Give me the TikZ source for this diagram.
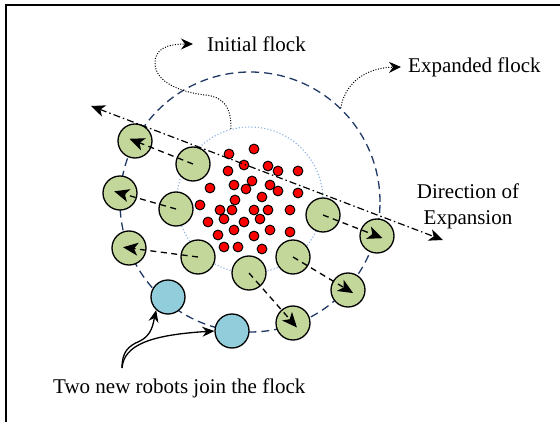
\documentclass[tikz,border=0pt]{standalone}
\usepackage{fontspec}
\setmainfont{Liberation Serif}
\usetikzlibrary{arrows.meta}
\definecolor{navy}{RGB}{31,56,100}
\definecolor{lightblue}{RGB}{141,180,226}
\definecolor{robotgreen}{RGB}{196,215,155}
\definecolor{robotblue}{RGB}{146,205,220}
\begin{document}
\begin{tikzpicture}[x=1pt,y=-1pt,
  robot/.style={circle, draw=black, line width=1.3pt, minimum size=34pt, inner sep=0pt},
  greenbot/.style={robot, fill=robotgreen},
  bluebot/.style={robot, fill=robotblue},
  reddot/.style={circle, draw=black, line width=1pt, fill=red, minimum size=9.8pt, inner sep=0pt},
  lbl/.style={font=\fontsize{21}{26}\selectfont, inner sep=0pt},
  move/.style={dash pattern=on 6pt off 4.5pt, line width=1.3pt, -{Stealth[length=15pt,width=13pt,inset=4pt]}, shorten >=-6pt},
  note/.style={line width=1pt, dash pattern=on 1pt off 1.6pt, -{Stealth[length=12pt,width=11pt]}},
  joinarrow/.style={line width=1.3pt, -{Stealth[length=12pt,width=10pt]}},
  expdir/.style={line width=1.2pt, dash pattern=on 7pt off 3pt on 1.5pt off 3pt,
    {Stealth[length=14pt,width=12pt,inset=4pt]}-{Stealth[length=14pt,width=12pt,inset=4pt]}}
]
\useasboundingbox (0,0) rectangle (560,422);
\draw[line width=2pt] (6,422) -- (6,5) -- (560,5);

% flock boundaries
\node[circle, draw=navy, line width=1.3pt, dash pattern=on 8pt off 5pt, minimum size=260pt, inner sep=0pt] (expanded) at (250,202) {};
\node[circle, draw=lightblue, line width=1.1pt, dash pattern=on 1.2pt off 2pt, minimum size=146pt, inner sep=0pt] (initial) at (250,200) {};

% inner robots
\node[greenbot] (i1) at (193,164) {};
\node[greenbot] (i2) at (176,209) {};
\node[greenbot] (i3) at (198,257) {};
\node[greenbot] (i4) at (249,273) {};
\node[greenbot] (i5) at (293,257) {};
\node[greenbot] (i6) at (323,215) {};
% outer robots
\node[greenbot] (o1) at (135,141) {};
\node[greenbot] (o2) at (120,193) {};
\node[greenbot] (o3) at (129,248) {};
\node[greenbot] (o4) at (293,323) {};
\node[greenbot] (o5) at (348,290) {};
\node[greenbot] (o6) at (377,236) {};
% new robots
\node[bluebot] (b1) at (168,297) {};
\node[bluebot] (b2) at (232,331) {};

% initial flock members
\foreach \x/\y [count=\i] in {229/154, 254/149, 244/165, 268/166, 278/171, 298/171,
  228/171, 234/185, 252/181, 246/189, 270/185, 278/191, 298/193, 210/188,
  235/200, 262/197, 200/205, 220/210, 232/210, 254/210, 268/210, 290/210,
  224/219, 260/219, 208/222, 244/222, 234/230, 270/230, 290/232, 218/235,
  254/236, 224/247, 238/247, 262/249}
  \node[reddot] (d\i) at (\x,\y) {};

% direction of expansion
\coordinate (dirA) at (91,106);
\coordinate (dirB) at (443,240);
\draw[expdir] (dirA) -- (dirB);

% robot movements
\draw[move] (i1.center) -- (o1.center);
\draw[move] (i2.center) -- (o2.center);
\draw[move] (i3.center) -- (o3.center);
\draw[move] (i4.center) -- (o4.center);
\draw[move] (i5.center) -- (o5.center);
\draw[move] (i6.center) -- (o6.center);

% labels
\node[lbl, anchor=base west] (initlbl) at (207,52) {Initial flock};
\node[lbl, anchor=base west] (explbl) at (408,73) {Expanded flock};
\node[lbl, anchor=north, align=center] (dirlbl) at (468,184) {Direction of\\Expansion};
\node[lbl, anchor=base west] (joinlbl) at (53,393) {Two new robots join the flock};

\coordinate (inittip) at (193,44);
\coordinate (exptip) at (401,67);
\coordinate (jointail) at (122,368);

\draw[note] (initial.105) .. controls (231,108) and (225,97) .. (205,95)
  .. controls (180,92) and (155,82) .. (155,63)
  .. controls (155,50) and (165,44) .. (inittip);
\draw[note] (expanded.46) .. controls (344,88) and (360,68) .. (exptip);

\draw[joinarrow] (jointail) .. controls (122,352) and (128,346) .. (140,341)
  .. controls (152,335) and (153,324) .. (b1.228);
\draw[joinarrow] (jointail) .. controls (124,345) and (150,335) .. (b2.west);
\end{tikzpicture}
\end{document}
